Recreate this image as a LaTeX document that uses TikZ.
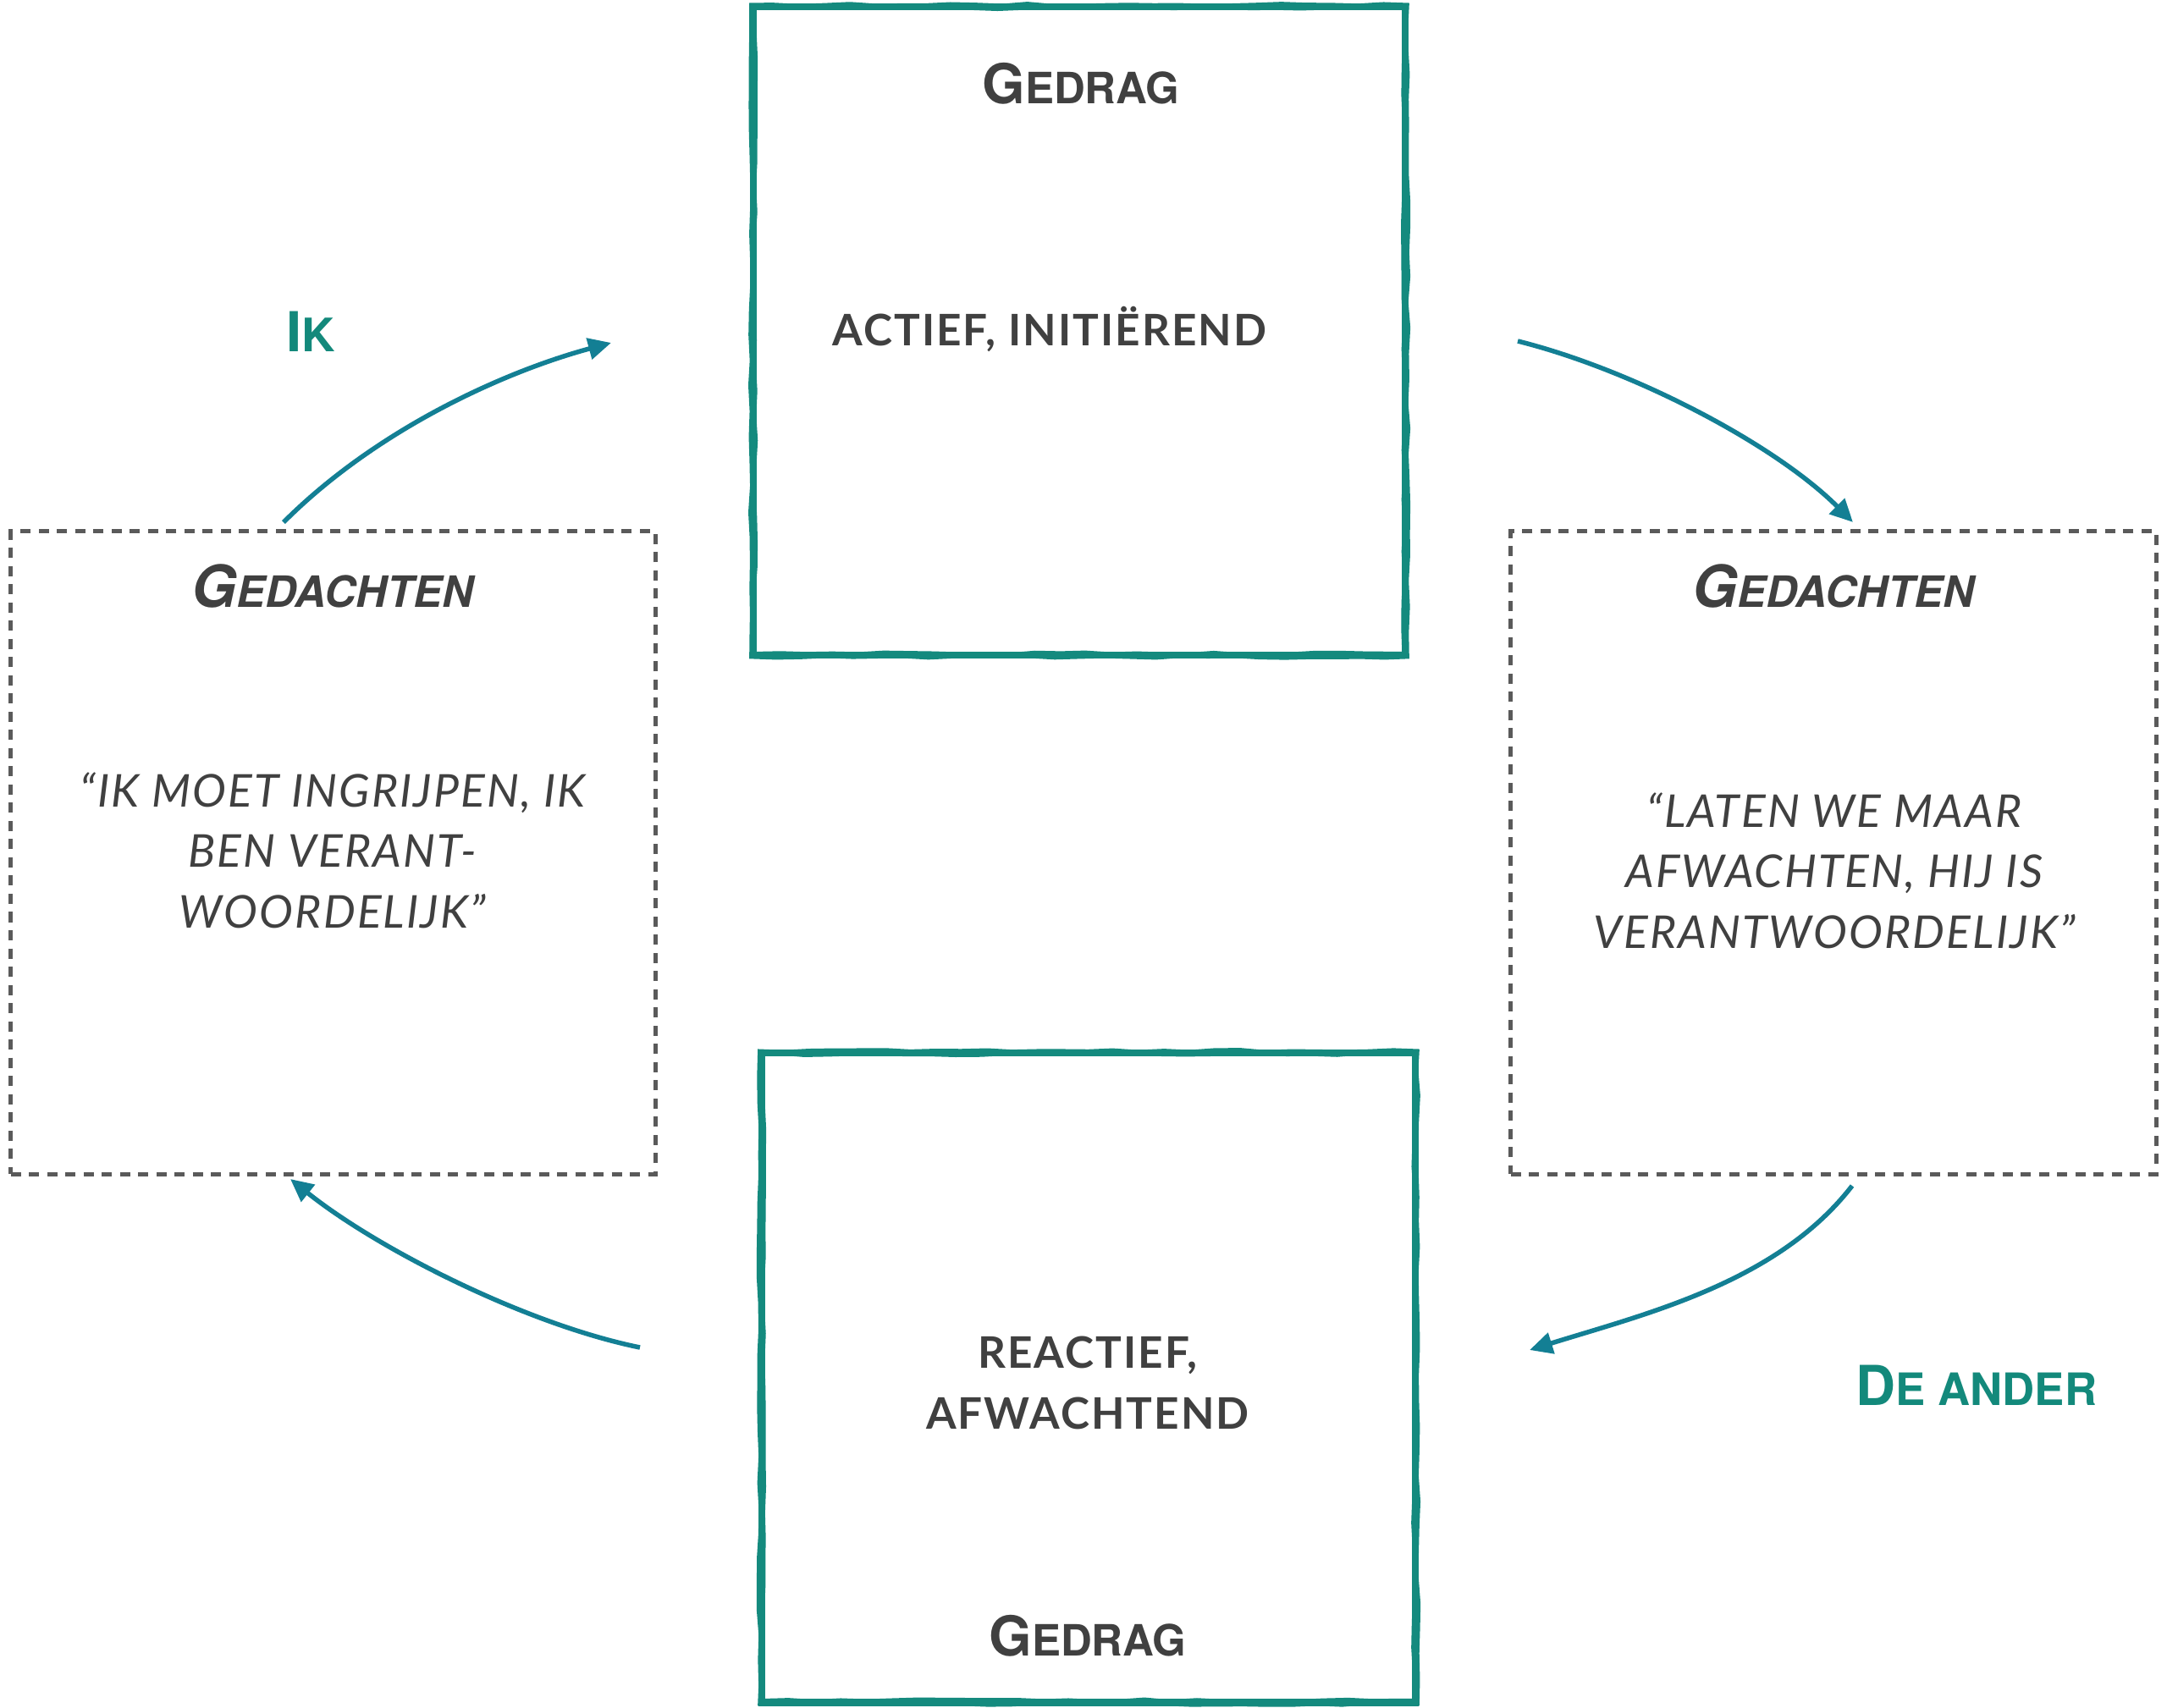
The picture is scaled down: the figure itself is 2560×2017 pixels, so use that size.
\documentclass[tikz,border=0pt]{standalone}
\usepackage{fontspec}
\usetikzlibrary{arrows.meta,decorations.pathmorphing,calc}
\newfontfamily\hfont{TeX Gyre Heros}
\newfontfamily\bodyfont[LetterSpace=4]{Lato}
\definecolor{boxteal}{HTML}{148A7E}
\definecolor{labteal}{HTML}{13897B}
\definecolor{arrteal}{HTML}{137F94}
\definecolor{txtgray}{HTML}{404040}
\definecolor{dashgray}{HTML}{5A5A5A}
\newcommand\schead[4]{{\fontsize{#1}{#1}\selectfont #3}{\fontsize{#2}{#2}\selectfont #4}}
\tikzset{
  tealbox/.style={draw=boxteal, line width=0.085cm, inner sep=0pt, outer sep=0pt},
  roughthin/.style={draw=boxteal, line width=0.022cm, decorate,
    decoration={random steps, segment length=0.3cm, amplitude=0.014cm}},
  dashbox/.style={draw=dashgray, line width=0.05cm, dash pattern=on 0.12cm off 0.095cm, inner sep=0pt},
  arr/.style={draw=arrteal, line width=0.055cm, -{Triangle[length=0.27cm,width=0.25cm]}},
  head/.style={text=txtgray, font=\hfont\bfseries, anchor=base, inner sep=0pt},
  lab/.style={text=labteal, font=\hfont\bfseries, anchor=base, inner sep=0pt},
  body/.style={text=txtgray, font=\bodyfont\bfseries\fontsize{14.6}{20.4}\selectfont, anchor=base, align=center, inner sep=0pt},
  quote/.style={text=txtgray, font=\bodyfont\itshape\fontsize{15.2}{20.3}\selectfont, anchor=base, align=center, inner sep=0pt},
}
\begin{document}
\begin{tikzpicture}[x=0.01cm,y=-0.01cm]
\pgfmathsetseed{11}
\useasboundingbox (0,0) rectangle (2560,2017);
\fill[white] (0,0) rectangle (2560,2017);

% boxes
\node[tealbox, minimum width=7.7cm, minimum height=7.66cm] (top) at (1275,391) {};
\node[tealbox, minimum width=7.72cm, minimum height=7.67cm] (bot) at (1286,1627.5) {};
\node[dashbox, minimum width=7.61cm, minimum height=7.59cm] (left) at (393.5,1007.5) {};
\node[dashbox, minimum width=7.62cm, minimum height=7.59cm] (right) at (2166,1007.5) {};

% sketchy edges of the teal boxes
\draw[roughthin] ([xshift=-0.035cm,yshift=0.032cm]top.north west) rectangle ([xshift=0.035cm,yshift=-0.03cm]top.south east);
\draw[roughthin] ([xshift=0.03cm,yshift=-0.028cm]top.north west) rectangle ([xshift=-0.028cm,yshift=0.032cm]top.south east);
\draw[roughthin] ([xshift=-0.035cm,yshift=0.032cm]bot.north west) rectangle ([xshift=0.035cm,yshift=-0.03cm]bot.south east);
\draw[roughthin] ([xshift=0.03cm,yshift=-0.028cm]bot.north west) rectangle ([xshift=-0.028cm,yshift=0.032cm]bot.south east);

% texts
\node[head] (tgedrag) at (1277,122) {\schead{18.5}{14.5}{G}{EDRAG}};
\node[body] (actief) at (1240,408) {ACTIEF, INITIËREND};

\node[head, font=\hfont\bfseries\itshape] (lgedachten) at (393,717) {\schead{19.5}{14.5}{G}{EDACHTEN}};
\node[quote] (lquote) at (393,1096) {“IK MOET INGRIJPEN, IK\\BEN VERANT-\\WOORDELIJK”};

\node[head, font=\hfont\bfseries\itshape] (rgedachten) at (2166,717) {\schead{19.5}{14.5}{G}{EDACHTEN}};
\node[quote] (rquote) at (2167,1120) {“LATEN WE MAAR\\AFWACHTEN, HIJ IS\\VERANTWOORDELIJK”};

\node[body] (reactief) at (1285,1688) {REACTIEF,\\AFWACHTEND};
\node[head] (bgedrag) at (1285,1956) {\schead{18.5}{14.5}{G}{EDRAG}};

\node[lab] (ik) at (367,415) {\schead{18.5}{15.5}{I}{K}};
\node[lab] (deander) at (2335,1660) {\schead{18.5}{15}{D}{E ANDER}};

% arrows
\coordinate (a1s) at (335,617);  \coordinate (a1e) at (722,405);
\coordinate (a2s) at (1793,403); \coordinate (a2e) at (2189,617);
\coordinate (a3s) at (2188,1401); \coordinate (a3e) at (1807,1595);
\coordinate (a4s) at (756,1592); \coordinate (a4e) at (343,1393);
\draw[arr] (a1s) .. controls (445,507) and (596,439) .. (a1e);
\draw[arr] (a2s) .. controls (1929,437) and (2097,525) .. (a2e);
\draw[arr] (a3s) .. controls (2100,1515) and (1945,1552) .. (a3e);
\draw[arr] (a4s) .. controls (619,1564) and (444,1474) .. (a4e);
\end{tikzpicture}
\end{document}
